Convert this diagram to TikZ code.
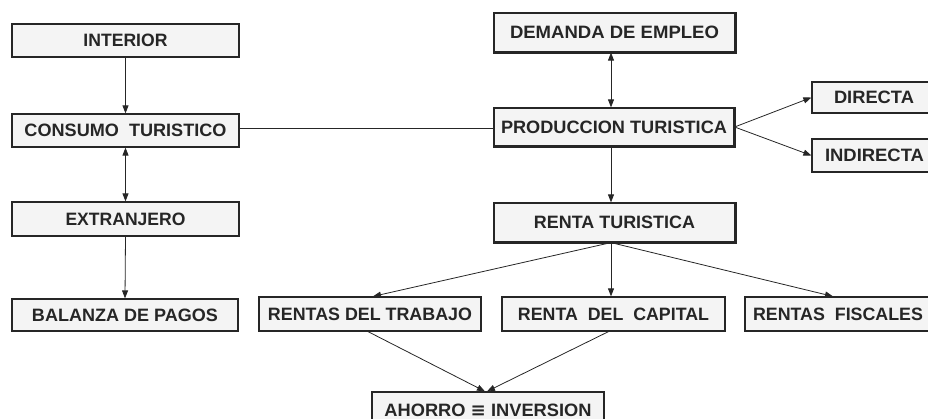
\documentclass[tikz,border=0pt]{standalone}
\usepackage{fontspec}
\setmainfont{Liberation Sans}
\newfontfamily\symfont{DejaVu Sans}
\usetikzlibrary{arrows.meta}
\definecolor{ink}{HTML}{262626}
\definecolor{boxfill}{HTML}{F4F4F4}
\newcommand{\lbl}[2]{\resizebox{#1pt}{12.5pt}{\bfseries #2}}
\tikzset{
  box/.style={draw=ink, fill=boxfill, line width=1.2pt, rectangle, inner sep=0pt, text=ink},
  conn/.style={draw=ink, line width=0.8pt},
  arr/.style={conn, -{Triangle[length=8pt,width=6pt]}},
  darr/.style={conn, {Triangle[length=8pt,width=6pt]}-{Triangle[length=8pt,width=6pt]}},
  heavy/.style={draw=ink, line width=2.2pt}
}
\begin{document}
\begin{tikzpicture}[x=1pt,y=-1pt]
\useasboundingbox (0,0) rectangle (928,419);
\clip (0,0) rectangle (928,419);
% left column
\node[box, minimum width=227pt, minimum height=33pt] (int) at (125.5,40.5) {\lbl{84}{INTERIOR}};
\node[box, minimum width=227pt, minimum height=33pt] (cons) at (125.5,130.5) {\lbl{202}{CONSUMO\ \ TURISTICO}};
\node[box, minimum width=227pt, minimum height=34pt] (ext) at (125.5,219) {\lbl{120}{EXTRANJERO}};
\node[box, minimum width=226pt, minimum height=32pt] (bal) at (125,315) {\lbl{186}{BALANZA DE PAGOS}};
% right column
\node[box, minimum width=241pt, minimum height=39pt] (dem) at (614.5,32.5) {\lbl{209}{DEMANDA DE EMPLEO}};
\node[box, minimum width=240pt, minimum height=38pt] (prod) at (614,127) {\lbl{226}{PRODUCCION TURISTICA}};
\node[box, minimum width=241pt, minimum height=39pt] (rent) at (614.5,222.5) {\lbl{161}{RENTA TURISTICA}};
\node[box, minimum width=124pt, minimum height=31pt] (dir) at (874,97.5) {\lbl{80}{DIRECTA}};
\node[box, minimum width=125pt, minimum height=33pt] (ind) at (874.5,155.5) {\lbl{99}{INDIRECTA}};
% bottom row
\node[box, minimum width=222pt, minimum height=34pt] (trab) at (370,314) {\lbl{204}{RENTAS DEL TRABAJO}};
\node[box, minimum width=223pt, minimum height=34pt] (cap) at (613.5,314) {\lbl{191}{RENTA\ \ DEL\ \ CAPITAL}};
\node[box, minimum width=186pt, minimum height=34pt] (fis) at (838,314) {\lbl{170}{RENTAS\ \ FISCALES}};
\node[box, minimum width=232pt, minimum height=36pt] (aho) at (488,410) {\lbl{207}{AHORRO {\symfont ≡} INVERSION}};
% heavy edges
\foreach \n in {dem,prod,rent} {
  \draw[heavy] (\n.south west) -- (\n.south east) -- (\n.north east);
}
% connector anchor points
\coordinate (rs) at (rent.south -| 611,0);
% connectors
\draw[arr] (int.south) -- (cons.north);
\draw[darr] (cons.south) -- (ext.north);
\draw[arr] (ext.south) -- (bal.north);
\draw[conn] (cons.east |- 0,128) -- (prod.west |- 0,128);
\draw[darr] (dem.south -| 611,0) -- (prod.north -| 611,0);
\draw[arr] (prod.south -| 611,0) -- (rent.north -| 611,0);
\draw[arr] (prod.east) -- (dir.west);
\draw[arr] (prod.east) -- (ind.west);
\draw[arr] (rs) -- ([xshift=3pt]trab.north);
\draw[arr] (rs) -- (cap.north -| rs);
\draw[arr] (rs) -- ([xshift=-5pt]fis.north);
\draw[arr] ([xshift=-2pt]trab.south) -- ([xshift=-3pt]aho.north);
\draw[arr] ([xshift=-5pt]cap.south) -- ([xshift=-1pt]aho.north);
\end{tikzpicture}
\end{document}
